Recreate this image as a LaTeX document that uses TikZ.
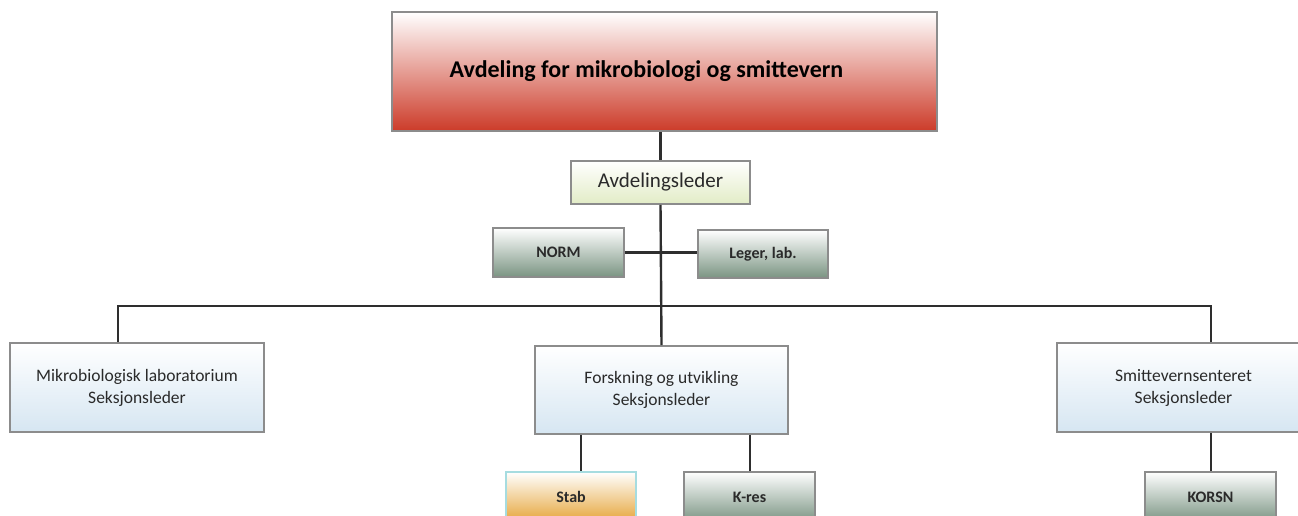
\documentclass[tikz,border=0pt]{standalone}
\usepackage{fontspec}
\setmainfont{Carlito}
\definecolor{bordergrey}{HTML}{8C8C8C}
\definecolor{linedark}{HTML}{2E2E2E}
\definecolor{redbot}{HTML}{CC3B29}
\definecolor{redmid}{HTML}{EDCFCB}
\definecolor{greenbot}{HTML}{E2ECC6}
\definecolor{sagebot}{HTML}{7A9482}
\definecolor{bluebot}{HTML}{D6E6F2}
\definecolor{orangebot}{HTML}{E6A53A}
\definecolor{cyanborder}{HTML}{A6DCE0}
\definecolor{txt}{HTML}{2A2A2A}
\tikzset{
  boxbase/.style={draw=bordergrey, line width=1.8pt, inner sep=0pt, anchor=center, align=center, text=txt},
  titlebox/.style={boxbase, top color=white, middle color=redmid, bottom color=redbot, font=\fontsize{24}{28}\selectfont\bfseries, text=black},
  leadbox/.style={boxbase, top color=white, bottom color=greenbot, font=\fontsize{21}{25}\selectfont},
  sagebox/.style={boxbase, top color=white, bottom color=sagebot, font=\fontsize{16}{19}\selectfont\bfseries},
  secbox/.style={boxbase, top color=white, bottom color=bluebot, font=\fontsize{17.5}{22}\selectfont},
  orangebox/.style={boxbase, draw=cyanborder, top color=white, bottom color=orangebot, font=\fontsize{16}{19}\selectfont\bfseries},
  conn/.style={draw=linedark, line width=2.4pt}
}
\begin{document}
\begin{tikzpicture}[x=1pt,y=-1pt]
\useasboundingbox (0,0) rectangle (1298,516);
\clip (0,0) rectangle (1298,516);
\fill[white] (0,0) rectangle (1298,516);
% nodes
\node[titlebox, minimum width=545pt, minimum height=119pt] (top) at (664.5,71.5) {\raisebox{-3pt}{Avdeling for mikrobiologi og smittevern}\hspace*{36pt}};
\node[leadbox, minimum width=179pt, minimum height=43pt] (avd) at (660.5,182.5) {Avdelingsleder};
\node[sagebox, minimum width=131pt, minimum height=49pt] (norm) at (558.5,252.5) {NORM};
\node[sagebox, minimum width=130pt, minimum height=48pt] (leger) at (763,254) {Leger, lab.};
\node[secbox, minimum width=254pt, minimum height=89pt] (mikro) at (137,387.5) {Mikrobiologisk laboratorium\\Seksjonsleder};
\node[secbox, minimum width=253pt, minimum height=88pt] (fors) at (661.5,390) {Forskning og utvikling\\Seksjonsleder};
\node[secbox, minimum width=253pt, minimum height=89pt] (smitt) at (1183.5,387.5) {Smittevernsenteret\\Seksjonsleder};
\node[orangebox, minimum width=130pt, minimum height=50pt] (stab) at (571,497) {Stab};
\node[sagebox, minimum width=131pt, minimum height=50pt] (kres) at (749.5,497) {K-res};
\node[sagebox, minimum width=131pt, minimum height=50pt] (korsn) at (1210.5,497) {KORSN};
% helper coordinates
\coordinate (busL) at (118,306);
\coordinate (busR) at (1211,306);
\coordinate (stabx) at (581,0);
\coordinate (kresx) at (750,0);
% connectors
\draw[conn] (avd.north) -- (avd.north |- top.south);
\draw[conn] (avd.south) -- (fors.north);
\draw[conn] (norm.east) -- (norm.east -| leger.west);
\draw[conn] (mikro.north -| busL) -- (busL) -- (busR) -- (busR |- smitt.north);
\draw[conn] (stabx |- fors.south) -- (stabx |- stab.north);
\draw[conn] (kresx |- fors.south) -- (kresx |- kres.north);
\draw[conn] (busR |- smitt.south) -- (busR |- korsn.north);
\end{tikzpicture}
\end{document}
